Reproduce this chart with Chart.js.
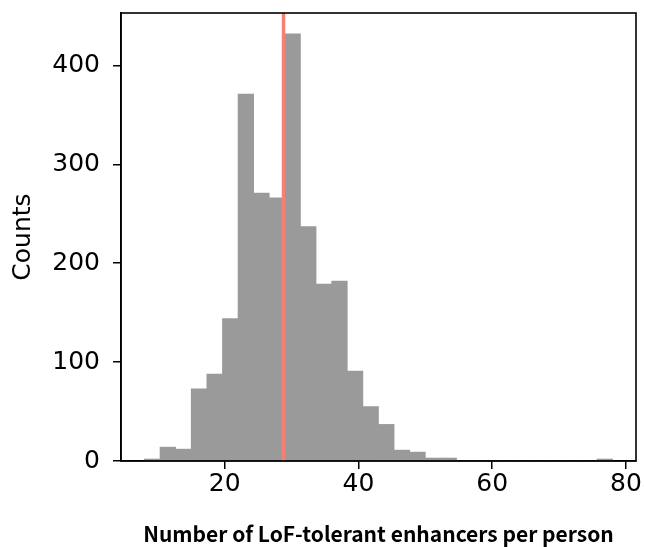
<!DOCTYPE html>
<html>
<head>
<meta charset="utf-8">
<script src="https://cdn.jsdelivr.net/npm/chart.js@4/dist/chart.umd.min.js"></script>
<style>
  html, body { margin: 0; padding: 0; background: #fff; }
  #wrap { width: 645px; height: 547px; }
</style>
</head>
<body>
<div id="wrap"><canvas id="c" width="645" height="547"></canvas></div>
<script>
// ---- data ----
const binStart = 8;
const binEnd = 78;
const counts = [2, 14, 12, 73, 88, 144, 371, 271, 266, 432, 237, 179, 182, 91, 55, 37, 11, 9, 3, 3, 0, 0, 0, 0, 0, 0, 0, 0, 0, 2];
const meanValue = [28.8];
const xTicks = [20, 40, 60, 80];
const yTicks = [0, 100, 200, 300, 400];
const xRange = [4.5, 81.5];
const yRange = [0, 453];
const xTitle = 'Number of LoF-tolerant enhancers per person';
const yTitle = 'Counts';

const binW = (binEnd - binStart) / counts.length;
const points = counts.map((v, i) => ({ x: binStart + binW * (i + 0.5), y: v }));

const framePlugin = {
  id: 'frame',
  afterDatasetsDraw(chart) {
    const { ctx, chartArea: a, scales } = chart;
    ctx.save();
    // mean line
    const px = scales.x.getPixelForValue(meanValue[0]);
    ctx.strokeStyle = '#f88072';
    ctx.lineWidth = 3.5;
    ctx.beginPath();
    ctx.moveTo(px, a.top);
    ctx.lineTo(px, a.bottom);
    ctx.stroke();
    // frame
    ctx.strokeStyle = '#000';
    ctx.lineWidth = 1.6;
    ctx.strokeRect(a.left, a.top, a.right - a.left, a.bottom - a.top);
    ctx.restore();
  }
};

new Chart(document.getElementById('c'), {
  type: 'bar',
  data: {
    datasets: [{
      data: points,
      backgroundColor: '#9a9a9a',
      borderWidth: 0,
      barPercentage: 1,
      categoryPercentage: 1,
      grouped: false
    }]
  },
  options: {
    responsive: false,
    animation: false,
    devicePixelRatio: 1,
    layout: { padding: { left: 0, right: 9, top: 13, bottom: 0 } },
    plugins: { legend: { display: false }, tooltip: { enabled: false } },
    scales: {
      x: {
        type: 'linear',
        min: xRange[0],
        max: xRange[1],
        offset: false,
        afterBuildTicks: s => { s.ticks = xTicks.map(v => ({ value: v })); },
        afterFit: s => { s.height = 86; s.paddingLeft = 0; s.paddingRight = 0; },
        grid: { display: true, offset: false, drawOnChartArea: false, drawTicks: true, tickLength: 8, color: '#000', lineWidth: 1.5 },
        border: { display: true, color: '#000', width: 1.6 },
        ticks: { color: '#000', font: { family: 'DejaVu Sans', size: 25 }, padding: 0, maxRotation: 0, autoSkip: false },
        title: { display: true, text: xTitle, color: '#000', font: { family: 'Noto Sans CJK KR', size: 21, weight: 'bold' }, padding: { top: 0, bottom: 0 } }
      },
      y: {
        type: 'linear',
        min: yRange[0],
        max: yRange[1],
        afterBuildTicks: s => { s.ticks = yTicks.map(v => ({ value: v })); },
        afterFit: s => { s.width = 121; s.paddingTop = 0; s.paddingBottom = 0; },
        grid: { display: true, drawOnChartArea: false, drawTicks: true, tickLength: 8, color: '#000', lineWidth: 1.5 },
        border: { display: true, color: '#000', width: 1.6 },
        ticks: { color: '#000', font: { family: 'DejaVu Sans', size: 25 }, padding: 13, autoSkip: false },
        title: { display: true, text: yTitle, color: '#000', font: { family: 'DejaVu Sans', size: 25 }, padding: { top: 8, bottom: 0 } }
      }
    }
  },
  plugins: [framePlugin]
});
</script>
</body>
</html>
